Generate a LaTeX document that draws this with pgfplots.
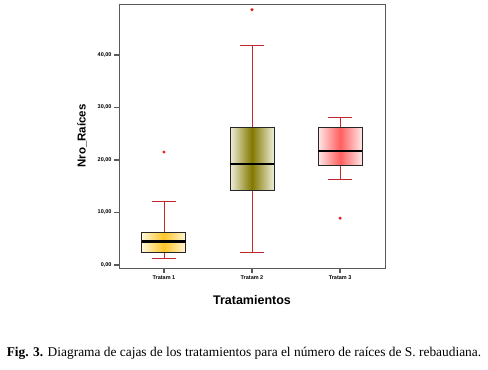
\documentclass[border=0pt]{standalone}
\usepackage{pgfplots}
\pgfplotsset{compat=1.18}
\usepgfplotslibrary{statistics}
\usepackage{fontspec}
\setmainfont{Liberation Sans}
\newfontfamily\capfont{Liberation Serif}
\definecolor{whisk}{HTML}{C0282D}
\definecolor{frame}{HTML}{5A5A5A}
\definecolor{goldC}{RGB}{255,198,40}
\definecolor{goldE}{RGB}{255,246,215}
\definecolor{oliveC}{RGB}{130,120,0}
\definecolor{oliveE}{RGB}{238,238,218}
\definecolor{pinkC}{RGB}{255,95,95}
\definecolor{pinkE}{RGB}{255,232,232}
\definecolor{outl}{RGB}{230,20,20}
\begin{document}
\begin{tikzpicture}
\useasboundingbox (0pt,0pt) rectangle (488pt,370pt);
\begin{axis}[
  at={(119pt,102pt)}, anchor=south west,
  scale only axis, width=266pt, height=264pt,
  xmin=0.49, xmax=3.51, ymin=-0.6, ymax=49.7,
  axis line style={draw=frame, line width=0.9pt},
  xtick={1,2,3}, xticklabels={Tratam 1,Tratam 2,Tratam 3},
  ytick={0,10,20,30,40}, yticklabels={{0,00},{10,00},{20,00},{30,00},{40,00}},
  tick align=outside, major tick length=5pt,
  xtick style={draw=frame, line width=1.2pt},
  ytick style={draw=frame, line width=1.6pt},
  xtick pos=bottom, ytick pos=left,
  ticklabel style={font=\fontsize{5.5}{6}\selectfont\bfseries},
  xticklabel style={yshift=1pt},
  yticklabel style={xshift=1pt},
  xlabel={Tratamientos}, ylabel={Nro\_Raíces},
  xlabel style={font=\fontsize{12.5}{14}\selectfont\bfseries, at={(axis description cs:0.5,0)}, anchor=center, yshift=-32pt},
  ylabel style={font=\fontsize{11.5}{13}\selectfont\bfseries, at={(axis description cs:0,0.5)}, anchor=center, yshift=37pt},
  boxplot/draw direction=y,
  boxplot/every whisker/.style={draw=whisk, line width=0.8pt},
  boxplot/every median/.style={draw=black, line width=2.6pt},
  boxplot/box extend=0.5,
  boxplot/whisker extend=0.28,
]
\addplot[boxplot prepared={lower whisker=1.3, lower quartile=2.3, median=4.4, upper quartile=6.1, upper whisker=12.0, draw position=1},
  boxplot/every box/.style={draw=black!85, line width=0.9pt, left color=goldE, right color=goldE, middle color=goldC},
  mark=*, mark size=1.3pt, mark options={fill=outl, draw=outl}]
  table[row sep=\\, y index=0]{data\\ 21.5\\};
\addplot[boxplot prepared={lower whisker=2.3, lower quartile=14.1, median=19.2, upper quartile=26.1, upper whisker=41.9, draw position=2},
  boxplot/every box/.style={draw=black!85, line width=0.9pt, left color=oliveE, right color=oliveE, middle color=oliveC},
  mark=*, mark size=1.3pt, mark options={fill=outl, draw=outl}]
  table[row sep=\\, y index=0]{data\\ 48.6\\};
\addplot[boxplot prepared={lower whisker=16.2, lower quartile=19.0, median=21.7, upper quartile=26.1, upper whisker=28.0, draw position=3},
  boxplot/every box/.style={draw=black!85, line width=0.9pt, left color=pinkE, right color=pinkE, middle color=pinkC},
  mark=*, mark size=1.3pt, mark options={fill=outl, draw=outl}]
  table[row sep=\\, y index=0]{data\\ 8.9\\};
\end{axis}
\node at (244pt,17pt) {\capfont\fontsize{13.4}{15}\selectfont\textbf{Fig. 3.} Diagrama de cajas de los tratamientos para el número de raíces de S. rebaudiana.};
\end{tikzpicture}
\end{document}
